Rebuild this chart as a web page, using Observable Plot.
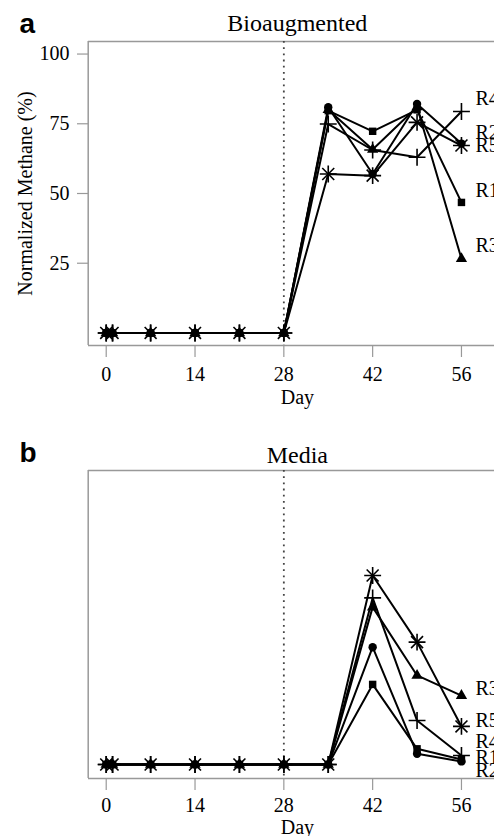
<!DOCTYPE html>
<html><head><meta charset="utf-8">
<script src="https://cdn.jsdelivr.net/npm/d3@7"></script>
<script src="https://cdn.jsdelivr.net/npm/@observablehq/plot@0.6"></script>
<style>
html,body{margin:0;padding:0;background:#fff;}
#wrap{position:relative;width:494px;height:836px;overflow:hidden;background:#fff;}
#wrap svg{display:block;}
</style></head><body><div id="wrap"></div>
<script>
// ---- data ----
const days = [0, 1, 7, 14, 21, 28, 35, 42, 49, 56];
const seriesNames = ["R1", "R2", "R3", "R4", "R5"];
const xTicks = [0, 14, 28, 42, 56];
const yTicks = [25, 50, 75, 100];
const inoculationDay = 28;

// Bioaugmented (panel a), normalized methane %
const bioR1 = [0, 0, 0, 0, 0, 0, 79.7, 72.3, 80.0, 46.8];
const bioR2 = [0, 0, 0, 0, 0, 0, 80.9, 57.0, 82.1, 67.9];
const bioR3 = [0, 0, 0, 0, 0, 0, 80.0, 65.8, 81.0, 26.6];
const bioR4 = [0, 0, 0, 0, 0, 0, 74.9, 65.6, 63.0, 79.4];
const bioR5 = [0, 0, 0, 0, 0, 0, 57.0, 56.4, 75.5, 67.2];

// Media (panel b)
const mediaR1 = [0, 0, 0, 0, 0, 0, 0, 28.6, 5.6, 1.8];
const mediaR2 = [0, 0, 0, 0, 0, 0, 0, 41.9, 3.8, 1.1];
const mediaR3 = [0, 0, 0, 0, 0, 0, 0, 56.2, 31.8, 24.6];
const mediaR4 = [0, 0, 0, 0, 0, 0, 0, 59.5, 15.7, 3.2];
const mediaR5 = [0, 0, 0, 0, 0, 0, 0, 67.5, 43.7, 13.6];

// ---- styling ----
const markers = {R1: ["square"], R2: ["circle"], R3: ["triangle"], R4: ["plus"], R5: ["plus", "times"]};
const FILLED = ["circle", "square", "triangle"];
const serif = "'Liberation Serif', 'Times New Roman', serif";
const sans = "'Liberation Sans', Arial, sans-serif";
const xDomain = [-2.84, 63.1];
const xRange = [87.7, 506];
const xMid = (xDomain[0] + xDomain[1]) / 2;

function panel(o) {
  const rows = [];
  seriesNames.forEach((s, i) => days.forEach((d, j) => rows.push({series: s, day: d, value: o.values[i][j]})));
  const marks = [
    Plot.ruleY(o.yDomain, {stroke: "#999", strokeWidth: 1.5}),
    Plot.ruleX([xDomain[0]], {stroke: "#999", strokeWidth: 1.5}),
    Plot.ruleX([inoculationDay], {stroke: "#444", strokeWidth: 1.8, strokeDasharray: "1.8,4.4"}),
    Plot.axisX(xTicks, {tickSize: 12, tickPadding: o.tickPad, stroke: "#999", strokeWidth: 1.2, fill: "black", fontSize: 20, label: null}),
    Plot.lineY(rows, {x: "day", y: "value", z: "series", stroke: "black", strokeWidth: 2})
  ];
  if (o.yAxis) {
    marks.push(Plot.axisY(yTicks, {tickSize: 11, tickPadding: 8, stroke: "#999", strokeWidth: 1.2, fill: "black", fontSize: 20, label: null}));
    marks.push(Plot.text(["Normalized Methane (%)"], {frameAnchor: "left", dx: -63.4, rotate: -90, textAnchor: "middle", lineAnchor: "middle", fontSize: 20, text: d => d}));
  }
  seriesNames.forEach((s, i) => {
    const sub = rows.filter(r => r.series === s);
    for (const sym of markers[s]) {
      const filled = FILLED.includes(sym);
      marks.push(Plot.dot(sub, {x: "day", y: "value", symbol: sym, r: filled ? 4.2 : 5.5,
        fill: filled ? "black" : "none", stroke: filled ? "none" : "black", strokeWidth: 1.6}));
    }
    const last = sub[sub.length - 1];
    marks.push(Plot.text([last], {x: "day", y: "value", text: "series", dx: 14, dy: o.nudges[i], textAnchor: "start", lineAnchor: "middle", fontSize: 20}));
  });
  marks.push(Plot.text([o.title], {x: [xMid], frameAnchor: "top", dy: o.titleDy, textAnchor: "middle", lineAnchor: "middle", fontSize: 24, text: d => d}));
  marks.push(Plot.text([o.letter], {frameAnchor: "top-left", dx: 19 - 88, dy: o.letterDy, textAnchor: "start", lineAnchor: "middle", fontSize: 28, fontWeight: "bold", fontFamily: sans, text: d => d}));
  marks.push(Plot.text(["Day"], {x: [xMid], frameAnchor: "bottom", dy: o.dayDy, textAnchor: "middle", lineAnchor: "middle", fontSize: 20, text: d => d}));

  return Plot.plot({
    width: 494,
    height: o.height,
    marginTop: o.mTop,
    marginBottom: o.mBottom,
    marginLeft: 88,
    marginRight: 0,
    x: {domain: xDomain, range: xRange},
    y: {domain: o.yDomain, axis: o.yAxis ? undefined : null},
    style: {fontFamily: serif, fontSize: "20px", background: "white", color: "black", overflow: "hidden"},
    marks
  });
}

const wrap = document.getElementById("wrap");
wrap.appendChild(panel({
  values: [bioR1, bioR2, bioR3, bioR4, bioR5],
  yDomain: [-4.5, 104.5], height: 420, mTop: 41, mBottom: 75,
  title: "Bioaugmented", letter: "a", titleDy: -18, letterDy: -17, dayDy: 52, tickPad: 9,
  yAxis: true, nudges: [-12, -11, -13, -13, 0]
}));
wrap.appendChild(panel({
  values: [mediaR1, mediaR2, mediaR3, mediaR4, mediaR5],
  yDomain: [-5, 105], height: 416, mTop: 50, mBottom: 58,
  title: "Media", letter: "b", titleDy: -15, letterDy: -17, dayDy: 49, tickPad: 7,
  yAxis: false, nudges: [-2, 9, -7, -14, -6]
}));
</script>
</body></html>
